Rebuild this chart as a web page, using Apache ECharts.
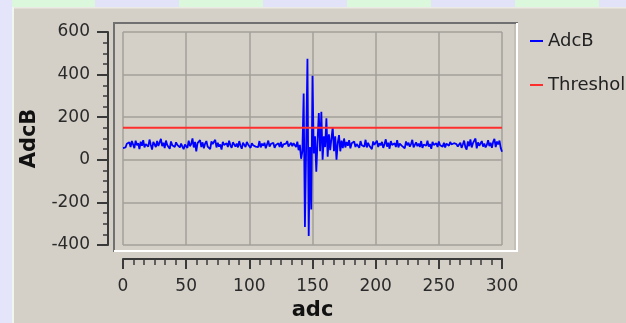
<!DOCTYPE html>
<html>
<head>
<meta charset="utf-8">
<script src="https://cdn.jsdelivr.net/npm/echarts@6/dist/echarts.min.js"></script>
<style>
  html, body { margin: 0; padding: 0; background: #d4d0c8; }
  #chart { width: 626px; height: 323px; }
</style>
</head>
<body>
<div id="chart"></div>
<script>
// ADC channel B samples, one per adc index 0..300
const adcB = [
  55, 62, 58, 75, 70, 82, 60, 88, 72, 55,
  90, 68, 78, 50, 85, 66, 92, 58, 74, 80,
  62, 95, 70, 48, 84, 76, 60, 88, 65, 72,
  98, 64, 80, 55, 90, 70, 78, 52, 86, 68,
  74, 60, 82, 70, 66, 58, 76, 62, 50, 72,
  80, 56, 90, 64, 74, 100, 58, 84, 40, 78,
  70, 92, 60, 82, 54, 76, 88, 62, 70, 50,
  86, 74, 66, 94, 58, 80, 62, 72, 48, 84,
  70, 64, 78, 60, 90, 68, 56, 82, 74, 62,
  76, 58, 88, 66, 52, 80, 70, 60, 84, 72,
  64, 56, 78, 68, 74, 62, 70, 60, 88, 58,
  76, 66, 80, 54, 72, 90, 62, 74, 68, 80,
  56, 70, 64, 78, 60, 84, 58, 72, 66, 76,
  88, 62, 70, 80, 64, 78,
  75, 60, 85, 45, 70, 5, 40, 311, -316, 70,
  474, -358, 60, -233, 395, 30, 110, -56, 90, 220,
  40, 225, 0, 110, 60, 195, 14, 120, 45, 100,
  153, 40, 110, 0, 80, 116, 40, 90, 55, 100,
  58, 84, 66, 92, 54, 78, 70, 86, 60, 74,
  82, 56, 88, 68, 76, 62, 94, 58, 80, 66,
  72, 50, 86, 70, 64, 90, 60, 78, 68, 84,
  56, 74, 96, 62, 80, 52, 88, 70, 66, 78,
  60, 92, 58, 76, 84, 64, 72, 54, 86, 68,
  80, 62, 74, 94, 58, 70, 82, 64, 76, 60,
  88, 56, 72, 80, 66, 90, 62, 74, 52, 84,
  70, 64, 78, 60, 86, 68, 74, 62, 80, 58,
  76, 70, 66, 84, 72, 64, 78, 70, 74, 62,
  68, 80, 56, 72, 90, 60, 48, 86, 64, 96,
  58, 78, 70, 100, 54, 82, 66, 74, 88, 62,
  76, 58, 70, 92, 64, 80, 56, 84, 98, 60,
  86, 72, 90, 56, 38
];
const threshold = 150;
const adcRange = [0, 300];
const seriesNames = ['AdcB', 'Threshold'];

const FONT = 'DejaVu Sans';
const AXIS_COLOR = '#3a3a3a';

// window decoration: striped top band and left column
const stripeEdges = [12, 95, 179, 263, 347, 431, 515, 599, 626];
const decor = [
  { type: 'rect', shape: { x: 0, y: 0, width: 12, height: 323 }, style: { fill: '#e4e4fa' }, silent: true },
  { type: 'rect', shape: { x: 12, y: 0, width: 2, height: 323 }, style: { fill: '#eef6ee' }, silent: true }
];
for (let i = 0; i < stripeEdges.length - 1; i++) {
  decor.push({
    type: 'rect',
    shape: { x: stripeEdges[i], y: 0, width: stripeEdges[i + 1] - stripeEdges[i], height: 7 },
    style: { fill: i % 2 === 0 ? '#dcf8dc' : '#e2e2f8' },
    silent: true
  });
}
decor.push({ type: 'rect', shape: { x: 14, y: 7, width: 612, height: 1.5 }, style: { fill: '#eceae4' }, silent: true });

// sunken canvas frame
const fx0 = 113, fy0 = 22, fx1 = 518, fy1 = 252;
decor.push(
  { type: 'polyline', shape: { points: [[fx0 + 1, fy1], [fx0 + 1, fy0 + 1], [fx1, fy0 + 1]] },
    style: { stroke: '#707070', lineWidth: 2, fill: null }, silent: true, z: 10 },
  { type: 'polyline', shape: { points: [[fx0 + 1, fy1 - 1], [fx1 - 1, fy1 - 1], [fx1 - 1, fy0 + 1]] },
    style: { stroke: '#ffffff', lineWidth: 2, fill: null }, silent: true, z: 10 },
  { type: 'polyline', shape: { points: [[fx1 - 3, fy0 + 2], [fx1 - 3, fy1 - 2]] },
    style: { stroke: '#b4b0a8', lineWidth: 1, fill: null }, silent: true, z: 10 }
);

const chart = echarts.init(document.getElementById('chart'), null, { renderer: 'canvas' });
chart.setOption({
  animation: false,
  backgroundColor: '#d4d0c8',
  textStyle: { fontFamily: FONT },
  graphic: decor,
  grid: { left: 123, right: 124, top: 32, bottom: 78, containLabel: false, outerBoundsMode: 'none' },
  legend: {
    data: seriesNames,
    orient: 'vertical',
    left: 525,
    top: 27,
    icon: 'rect',
    itemWidth: 13,
    itemHeight: 2,
    itemGap: 26,
    textStyle: { fontFamily: FONT, fontSize: 18, color: '#222' }
  },
  xAxis: {
    type: 'value',
    min: adcRange[0],
    max: adcRange[1],
    interval: 50,
    offset: 14,
    name: 'adc',
    nameLocation: 'middle',
    nameGap: 40,
    nameTextStyle: { fontFamily: FONT, fontSize: 21, fontWeight: 'bold', color: '#111' },
    axisLine: { show: true, onZero: false, lineStyle: { color: AXIS_COLOR, width: 2 } },
    axisTick: { show: true, length: 10, lineStyle: { color: AXIS_COLOR, width: 2 } },
    minorTick: { show: true, splitNumber: 6, length: 6, lineStyle: { color: AXIS_COLOR, width: 1.5 } },
    axisLabel: { margin: 19, fontFamily: FONT, fontSize: 17, color: '#2a2a2a' },
    splitLine: { show: true, lineStyle: { color: '#a3a09a', width: 1.5 } }
  },
  yAxis: {
    type: 'value',
    min: -400,
    max: 600,
    interval: 200,
    offset: 15,
    name: 'AdcB',
    nameLocation: 'middle',
    nameGap: 68,
    nameTextStyle: { fontFamily: FONT, fontSize: 21, fontWeight: 'bold', color: '#111' },
    axisLine: { show: true, onZero: false, lineStyle: { color: AXIS_COLOR, width: 2 } },
    axisTick: { show: true, length: 11, lineStyle: { color: AXIS_COLOR, width: 2 } },
    minorTick: { show: true, splitNumber: 4, length: 5, lineStyle: { color: AXIS_COLOR, width: 1.5 } },
    axisLabel: { margin: 18, fontFamily: FONT, fontSize: 17, color: '#2a2a2a' },
    splitLine: { show: true, lineStyle: { color: '#a3a09a', width: 1.5 } }
  },
  series: [
    {
      name: seriesNames[0],
      type: 'line',
      data: adcB.map((v, i) => [adcRange[0] + i, v]),
      showSymbol: false,
      symbol: 'none',
      lineStyle: { color: '#0000ff', width: 1.8 },
      itemStyle: { color: '#0000ff' },
      z: 3
    },
    {
      name: seriesNames[1],
      type: 'line',
      data: [[adcRange[0], threshold], [adcRange[1], threshold]],
      showSymbol: false,
      symbol: 'none',
      lineStyle: { color: '#ff2e2e', width: 2 },
      itemStyle: { color: '#ff2e2e' },
      z: 4
    }
  ]
});
</script>
</body>
</html>
